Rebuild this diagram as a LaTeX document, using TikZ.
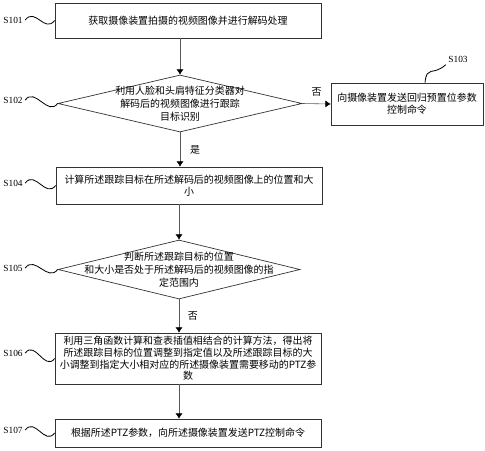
\documentclass[tikz,border=0pt]{standalone}
\usepackage{fontspec}
\setmainfont{Liberation Serif}
\newfontfamily\cjk{Noto Sans CJK SC}
\usetikzlibrary{shapes.geometric,arrows.meta,calc}

\begin{document}
\begin{tikzpicture}[x=0.03cm,y=-0.03cm,
	stepbox/.style={draw=black!80,line width=0.6pt,rectangle,minimum width=7.98cm,inner sep=0pt,align=center,font=\cjk\fontsize{8.5}{10}\selectfont},
	decision/.style={draw=black!80,line width=0.6pt,diamond,inner sep=0pt},
	dtext/.style={align=center,inner sep=0pt,font=\cjk\fontsize{8.5}{11}\selectfont},
	steplbl/.style={inner sep=2pt,font=\fontsize{8}{9}\selectfont},
	arr/.style={draw=black!65,line width=0.5pt,-{Latex[length=4.5pt,width=6pt,black]}},
	wave/.style={draw=black,line width=0.7pt},
	yesno/.style={font=\cjk\fontsize{8.5}{10}\selectfont}]
	\useasboundingbox (0,0) rectangle (485,450);
	% steps
	\node[stepbox,minimum height=1.05cm] (s101) at (188,20.5) {获取摄像装置拍摄的视频图像并进行解码处理};
	\node[decision,minimum width=7.32cm,minimum height=1.71cm] (s102) at (180,103.5) {};
	\node[dtext] (t102) at (s102) {利用人脸和头肩特征分类器对\\解码后的视频图像进行跟踪\\目标识别};
	\node[stepbox,minimum width=4.56cm,minimum height=1.26cm] (s103) at (407,104) {向摄像装置发送回归预置位参数\\控制命令};
	\node[stepbox,minimum height=1.11cm] (s104) at (189,185.5) {计算所述跟踪目标在所述解码后的视频图像上的位置和大\\小};
	\node[decision,minimum width=7.26cm,minimum height=1.77cm] (s105) at (179,269.5) {};
	\node[dtext] (t105) at (s105) {判断所述跟踪目标的位置\\和大小是否处于所述解码后的视频图像的指\\定范围内};
	\node[stepbox,minimum height=1.53cm] (s106) at (188,358.5) {利用三角函数计算和查表插值相结合的计算方法，得出将\\所述跟踪目标的位置调整到指定值以及所述跟踪目标的大\\小调整到指定大小相对应的所述摄像装置需要移动的PTZ参\\数};
	\node[stepbox,minimum height=0.84cm] (s107) at (188,433) {根据所述PTZ参数，向所述摄像装置发送PTZ控制命令};
	% arrows
	\draw[arr] (s102.north |- s101.south) -- (s102.north);
	\draw[arr] (s102.east) -- node[yesno,above=3pt] (n102) {否} (s103.west);
	\draw[arr] (s102.south) -- node[yesno,right=5pt] (y102) {是} (s102.south |- s104.north);
	\draw[arr] (s105.north |- s104.south) -- (s105.north);
	\draw[arr] (s105.south) -- node[yesno,right=4pt] (n105) {否} (s105.south |- s106.north);
	\draw[arr] (s105.south |- s106.south) -- (s105.south |- s107.north);
	% step labels
	\node[steplbl] (l101) at (13,20) {S101};
	\node[steplbl] (l102) at (13,100) {S102};
	\node[steplbl] (l103) at (458,59) {S103};
	\node[steplbl] (l104) at (13,183) {S104};
	\node[steplbl] (l105) at (13,268) {S105};
	\node[steplbl] (l106) at (13,353) {S106};
	\node[steplbl] (l107) at (13,430) {S107};
	\draw[wave] (l101.east) .. controls +(10,-13) and +(-10,13) .. (s101.west);
	\draw[wave] (l102.east) .. controls +(10,-13) and +(-10,13) .. (s102.west);
	\draw[wave] (l104.east) .. controls +(10,-13) and +(-10,13) .. (s104.west);
	\draw[wave] (l105.east) .. controls +(10,-13) and +(-10,13) .. (s105.west);
	\draw[wave] (l106.east) .. controls +(10,-13) and +(-10,13) .. (s106.west);
	\draw[wave] (l107.east) .. controls +(10,-13) and +(-10,13) .. (s107.west);
	\draw[wave] ([xshift=0.54cm]s103.north) .. controls +(2,-18) and +(-14,12) .. (l103.south west);
\end{tikzpicture}
\end{document}
